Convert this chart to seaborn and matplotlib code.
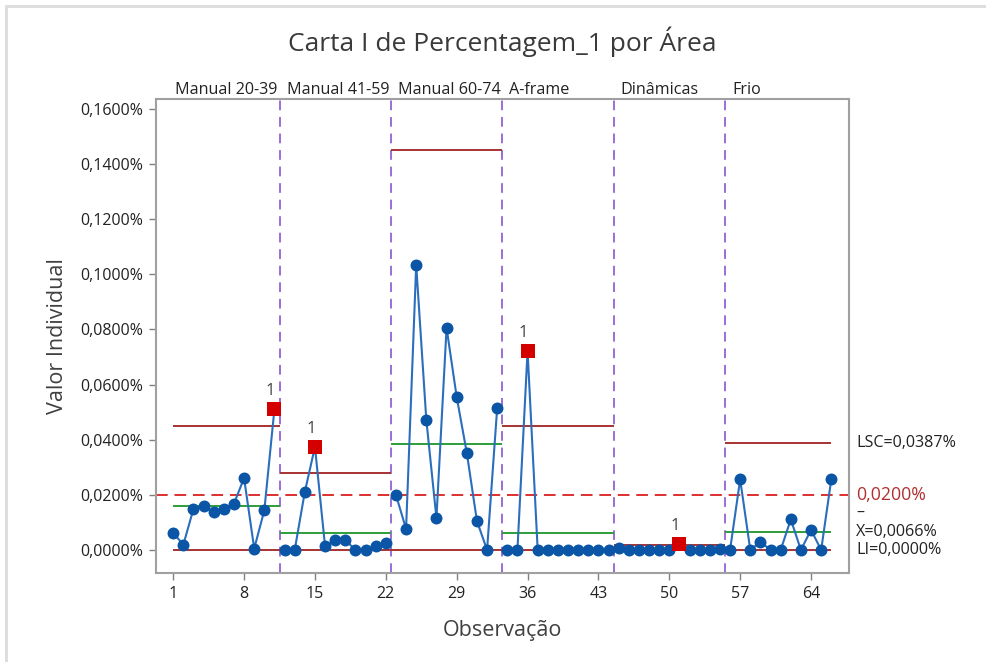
import numpy as np
import pandas as pd
import matplotlib
matplotlib.use("Agg")
import matplotlib.pyplot as plt
import matplotlib.transforms as mtransforms
from matplotlib.lines import Line2D
from matplotlib.ticker import FixedLocator, FuncFormatter
import seaborn as sns

# ---- data (values in %) ----
areas = ["Manual 20-39", "Manual 41-59", "Manual 60-74", "A-frame", "Dinâmicas", "Frio"]

manual_20_39 = [0.0062, 0.0019, 0.0149, 0.0158, 0.0137, 0.0149, 0.0168, 0.0261, 0.0005, 0.0144, 0.0512]
manual_41_59 = [0.0000, 0.0000, 0.0211, 0.0374, 0.0013, 0.0036, 0.0036, 0.0000, 0.0000, 0.0013, 0.0025]
manual_60_74 = [0.0200, 0.0076, 0.1034, 0.0472, 0.0116, 0.0806, 0.0555, 0.0352, 0.0105, 0.0000, 0.0515]
a_frame      = [0.0000, 0.0000, 0.0722, 0.0000, 0.0000, 0.0000, 0.0000, 0.0000, 0.0000, 0.0000, 0.0000]
dinamicas    = [0.0008, 0.0000, 0.0000, 0.0000, 0.0000, 0.0000, 0.0023, 0.0000, 0.0000, 0.0000, 0.0004]
frio         = [0.0000, 0.0256, 0.0000, 0.0030, 0.0000, 0.0000, 0.0111, 0.0000, 0.0073, 0.0000, 0.0256]

# control limits per area
ucl    = [0.0450, 0.0279, 0.1452, 0.0451, 0.0017, 0.0387]
center = [0.0159, 0.0062, 0.0385, 0.0061, 0.0003, 0.0066]
lcl    = [0.0000, 0.0000, 0.0000, 0.0000, 0.0000, 0.0000]
target = 0.0200

x_ticks = [1, 8, 15, 22, 29, 36, 43, 50, 57, 64]
y_ticks = [0.00, 0.02, 0.04, 0.06, 0.08, 0.10, 0.12, 0.14, 0.16]

series = [manual_20_39, manual_41_59, manual_60_74, a_frame, dinamicas, frio]
rows = []
obs = 1
for i, (area, vals) in enumerate(zip(areas, series)):
    for v in vals:
        rows.append({"obs": obs, "value": v, "area": area, "ucl": ucl[i]})
        obs += 1
df = pd.DataFrame(rows)
df["flag"] = df["value"] > df["ucl"]

# ---- style ----
sns.set_theme(style="white")
plt.rcParams["font.family"] = ["Open Sans", "DejaVu Sans"]

BLUE_LINE = "#2a6ebd"
BLUE_MARK = "#0a55a5"
RED_MARK = "#d40000"
LIMIT = "#a83232"
CENTER = "#2e9e3a"
PURPLE = "#9a6fd8"
TARGET = "#dd3030"
TXT = "#222222"
SPINE = "#a0a0a0"

W, H = 986, 662
fig = plt.figure(figsize=(W / 100, H / 100), dpi=100)
ax = fig.add_axes([156 / W, 1 - 573 / H, (849 - 156) / W, (573 - 99) / H])

# area boundaries
starts = df.groupby("area", sort=False)["obs"].min().to_list()
ends = df.groupby("area", sort=False)["obs"].max().to_list()
bounds = [s - 0.5 for s in starts[1:]]

for b in bounds:
    ax.axvline(b, color=PURPLE, lw=1.4, ls=(0, (5, 3.5)), zorder=1)

ax.axhline(target, color=TARGET, lw=1.4, ls=(0, (6, 3.5)), zorder=1)

# control limit segments
for i in range(len(areas)):
    x0 = starts[i] - 0.5 if i > 0 else starts[i]
    x1 = ends[i] + 0.5 if i < len(areas) - 1 else ends[i]
    ax.hlines([ucl[i], lcl[i]], x0, x1, color=LIMIT, lw=1.4, zorder=2)
    ax.hlines(center[i], x0, x1, color=CENTER, lw=1.4, zorder=2)

# individual values, connected within each area
sns.lineplot(data=df, x="obs", y="value", units="area", estimator=None,
             color=BLUE_LINE, lw=1.5, ax=ax, legend=False, zorder=3)
sns.scatterplot(data=df[~df["flag"]], x="obs", y="value", marker="o", s=74,
                color=BLUE_MARK, edgecolor=BLUE_MARK, linewidth=0, ax=ax,
                legend=False, zorder=4)
sns.scatterplot(data=df[df["flag"]], x="obs", y="value", marker="s", s=100,
                color=RED_MARK, edgecolor=RED_MARK, linewidth=0, ax=ax,
                legend=False, zorder=5)
for _, r in df[df["flag"]].iterrows():
    ax.annotate("1", (r["obs"], r["value"]), xytext=(-3, 7), textcoords="offset points",
                ha="center", va="bottom", fontsize=12, color="#404040")

# axes limits / ticks
ax.set_xlim(-0.7, 67.75)
ax.set_ylim(-0.00835, 0.1636)
ax.xaxis.set_major_locator(FixedLocator(x_ticks))
ax.yaxis.set_major_locator(FixedLocator(y_ticks))
ax.yaxis.set_major_formatter(FuncFormatter(lambda v, p: f"{v:.4f}".replace(".", ",") + "%"))
ax.tick_params(axis="both", which="major", direction="out", length=5, width=1,
               color="#808080", labelsize=11.5, labelcolor=TXT, pad=4, left=True, bottom=True)
for s in ax.spines.values():
    s.set_color(SPINE)
    s.set_linewidth(1.5)

ax.set_xlabel("Observação", fontsize=15.5, color="#404040", labelpad=13)
ax.set_ylabel("Valor Individual", fontsize=15.5, color="#404040", labelpad=9)

# area labels above the plot
for i, area in enumerate(areas):
    ax.text(starts[i] + 0.2, 1.003, area, transform=ax.get_xaxis_transform(),
            ha="left", va="bottom", fontsize=11.6, color=TXT)

# limit labels for the last area
trans = mtransforms.blended_transform_factory(ax.transAxes, ax.transData)
fmt = lambda v: f"{v:.4f}".replace(".", ",") + "%"
ax.text(1.01, ucl[-1], "LSC=" + fmt(ucl[-1]), transform=trans, ha="left", va="center",
        fontsize=11.6, color=TXT, clip_on=False)
ax.text(1.01, target, fmt(target), transform=trans, ha="left", va="center",
        fontsize=12.8, color="#b03030", clip_on=False)
ax.text(1.01, center[-1], "X=" + fmt(center[-1]), transform=trans, ha="left", va="center",
        fontsize=11.6, color=TXT, clip_on=False)
ax.annotate("–", (1.01, center[-1]), xycoords=trans, xytext=(0, 14), textcoords="offset points",
            ha="left", va="center", fontsize=11.6, color=TXT)
ax.text(1.01, lcl[-1], "LI=" + fmt(lcl[-1]), transform=trans, ha="left", va="center",
        fontsize=11.6, color=TXT, clip_on=False)

fig.text(0.509, 1 - 42 / H, "Carta I de Percentagem_1 por Área", ha="center", va="center",
         fontsize=19, color="#3a3a3a")

# light outer frame
fig.add_artist(Line2D([6 / W, 1], [1 - 6 / H, 1 - 6 / H], transform=fig.transFigure,
                      color="#dcdcdc", lw=2))
fig.add_artist(Line2D([6 / W, 6 / W], [0, 1 - 6 / H], transform=fig.transFigure,
                      color="#dcdcdc", lw=2))

fig.savefig("out.png", dpi=100, facecolor="white")
